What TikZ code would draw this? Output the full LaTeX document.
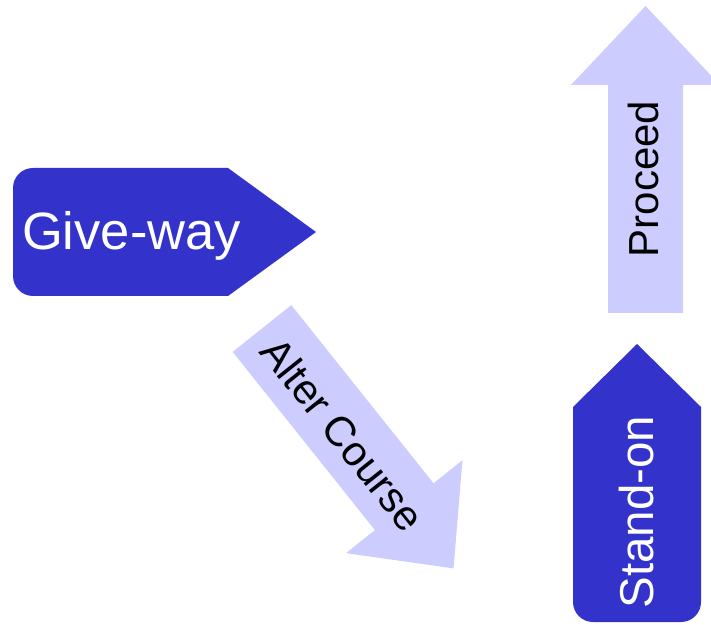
\documentclass[tikz,border=0pt]{standalone}
\usepackage{fontspec}
\setmainfont{Liberation Sans}
\definecolor{giveblue}{HTML}{3333CC}
\definecolor{arrowlilac}{HTML}{CCCCFF}
\tikzset{
  darkshape/.style={fill=giveblue},
  lightarrow/.style={fill=arrowlilac},
}
\begin{document}
\begin{tikzpicture}[x=1pt,y=1pt]
      \useasboundingbox (0,0) rectangle (711,624);

      \fill[darkshape] (316,392) -- (228,456) -- (33,456)
        arc[start angle=90,end angle=180,radius=20pt] -- (13,348)
        arc[start angle=180,end angle=270,radius=20pt] -- (228,328) -- cycle;
      \fill[darkshape] (637,280) -- (701,217) -- (701,22)
        arc[start angle=0,end angle=-90,radius=20pt] -- (593,2)
        arc[start angle=270,end angle=180,radius=20pt] -- (573,217) -- cycle;

      \begin{scope}[shift={(645.5,311)},rotate=90]
        \fill[lightarrow] (0,-37.5) -- (228,-37.5) -- (228,-74.5) -- (307,0)
          -- (228,74.5) -- (228,37.5) -- (0,37.5) -- cycle;
      \end{scope}
      \begin{scope}[shift={(262,295.5)},rotate=-51.4]
        \fill[lightarrow] (0,-37.5) -- (228,-37.5) -- (228,-74.5) -- (307,0)
          -- (228,74.5) -- (228,37.5) -- (0,37.5) -- cycle;
      \end{scope}

      \begin{scope}[every node/.style={font=\fontsize{42}{50}\selectfont}]
        \node[rotate=90,anchor=base] (proceed) at (658,445) {Proceed};
        \node[rotate=-51.4] (alter) at (343,190) {Alter Course};
      \end{scope}

      \begin{scope}[every node/.style={text=white}]
        \node[font=\fontsize{52.5}{62}\selectfont,anchor=base] (giveway) at (131.5,374) {Give-way};
        \node[font=\fontsize{47.5}{57}\selectfont,rotate=90,anchor=base] (standon) at (653,112) {Stand-on};
      \end{scope}

    \end{tikzpicture}
\end{document}
